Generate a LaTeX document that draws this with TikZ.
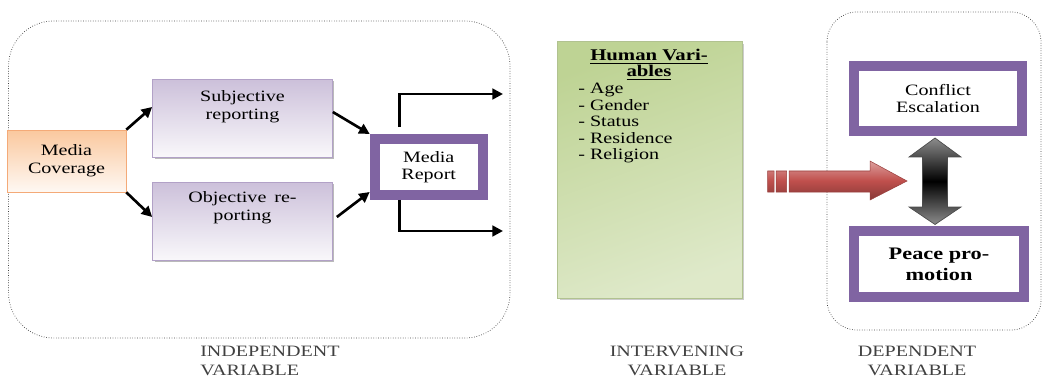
\documentclass[tikz,border=0pt]{standalone}
\usepackage{fontspec}
\setmainfont{Liberation Serif}[FakeStretch=1.27]
\usetikzlibrary{arrows.meta,shadows}
\definecolor{repviolet}{RGB}{128,100,162}
\definecolor{boxlilac}{RGB}{204,192,218}
\definecolor{boxedge}{RGB}{178,161,199}
\definecolor{covorange}{RGB}{250,200,158}
\definecolor{covedge}{RGB}{244,170,120}
\definecolor{hvgreen}{RGB}{190,211,148}
\definecolor{arrowred}{RGB}{192,80,77}
\begin{document}
\begin{tikzpicture}[x=0.02cm,y=-0.02cm,
  font=\fontsize{9}{10}\selectfont,
  group/.style={draw=black!75, densely dotted, rounded corners=#1},
  repbox/.style={rectangle, draw=boxedge, top color=boxlilac, bottom color=boxlilac!12!white,
    minimum width=3.6cm, minimum height=1.56cm,
    drop shadow={shadow xshift=0.04cm, shadow yshift=-0.04cm, fill=black!45, opacity=0.6}},
  vbox/.style={rectangle, draw=repviolet, line width=0.2cm, fill=white, align=center},
  flow/.style={line width=1.5pt, -{Triangle[length=6pt,width=6pt]}},
  caption/.style={text=black!75, align=center, font=\fontsize{9}{10.6}\selectfont}]
  \useasboundingbox (0,0) rectangle (1043,378);
  \draw[group=0.9cm] (8.6,21) rectangle (510,338);
  \draw[group=0.6cm] (827,12) rectangle (1041,330);

  \node[rectangle, draw=covedge, top color=covorange, bottom color=covorange!12!white,
    minimum width=2.38cm, minimum height=1.24cm, align=center,
    drop shadow={shadow xshift=0.03cm, shadow yshift=-0.03cm, fill=black!30, opacity=0.5}]
    (cover) at (66.5,161) {Media\\Coverage};
  \node[repbox] (subj) at (242.5,118) {};
  \node[repbox] (obj) at (242.5,221) {};
  \node[align=center] (subjtxt) at ([yshift=0.22cm]subj.center) {Subjective\\reporting};
  \node[align=center] (objtxt) at ([yshift=0.26cm]obj.center) {Objective\enspace re-\\porting};
  \node[vbox, minimum width=2.16cm, minimum height=1.12cm] (report) at (428.7,167) {Media\\Report};
  \coordinate (outtop) at (503,94);
  \coordinate (outbot) at (503,231);

  \draw[flow] (cover.north east) -- ([yshift=0.22cm]subj.west);
  \draw[flow] (cover.south east) -- ([yshift=0.08cm]obj.west);
  \draw[flow] ([yshift=0.12cm]subj.east) -- (report.north west);
  \draw[flow] ([xshift=0.08cm,yshift=0.08cm]obj.east) -- ([yshift=0.16cm]report.south west);
  \draw[flow] ([xshift=0.6cm,yshift=0.14cm]report.north west) |- (outtop);
  \draw[flow] ([xshift=0.6cm]report.south west) |- (outbot);

  \node[rectangle, draw=hvgreen!80!gray, top color=hvgreen, bottom color=hvgreen!50!white,
    shading angle=20, minimum width=3.7cm, minimum height=5.14cm,
    drop shadow={shadow xshift=0.05cm, shadow yshift=-0.05cm, fill=black!40, opacity=0.5}]
    (human) at (649.5,169.5) {};
  \node[font=\bfseries\fontsize{9.3}{9.2}\selectfont, align=center] (hvtitle) at (649,65)
    {\underline{Human Vari-}\\\underline{ables}};
  \node[anchor=north west, align=left, inner sep=0pt, font=\fontsize{9}{9.4}\selectfont]
    (hvlist) at (578,83) {- Age\\- Gender\\- Status\\- Residence\\- Religion};

  \shade[top color=arrowred!55!white, bottom color=arrowred!70!black, middle color=arrowred,
    draw=arrowred!80!black, line width=0.3pt]
    (767.7,171) rectangle (774,192) (776,171) rectangle (786.7,192)
    (789,171) -- (870,171) -- (870,161) -- (907,181) -- (870,200) -- (870,192) -- (789,192) -- cycle;

  \node[vbox, minimum width=3.36cm, minimum height=1.3cm] (conflict) at (938,98.5) {Conflict\\Escalation};
  \node[vbox, minimum width=3.4cm, minimum height=1.31cm, font=\bfseries\fontsize{10}{12}\selectfont]
    (peace) at (939,264) {Peace pro-\\motion};
  \shade[top color=black!45, bottom color=black!45, middle color=black, draw=black!70, line width=0.4pt]
    (935,138) -- (961,157) -- (947.5,157) -- (947.5,207) -- (961,207) -- (935,224.5)
    -- (909,207) -- (922.5,207) -- (922.5,157) -- (909,157) -- cycle;

  \node[caption, align=left] (indep) at (270,361) {INDEPENDENT\\VARIABLE};
  \node[caption] (interv) at (677,361) {INTERVENING\\VARIABLE};
  \node[caption] (dep) at (917,361) {DEPENDENT\\VARIABLE};
\end{tikzpicture}
\end{document}
